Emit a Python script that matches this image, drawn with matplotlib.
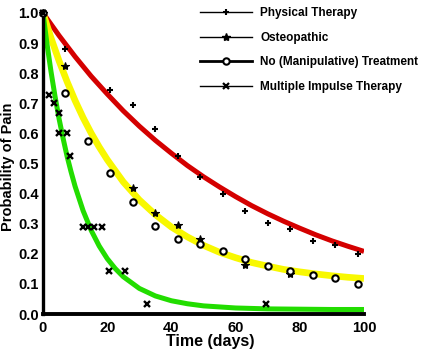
import matplotlib
matplotlib.use("Agg")
import matplotlib.pyplot as plt
from matplotlib.lines import Line2D

plt.rcParams['font.family'] = ['Liberation Sans', 'DejaVu Sans']
plt.rcParams['font.weight'] = 'bold'

# observed points
pt_days = [0, 7, 21, 28, 35, 42, 49, 56, 63, 70, 77, 84, 91, 98]
pt_prob = [1.0, 0.88, 0.745, 0.695, 0.615, 0.525, 0.455, 0.40, 0.342, 0.303, 0.282, 0.242, 0.229, 0.20]

ost_days = [0, 7, 28, 35, 42, 49, 63, 77]
ost_prob = [1.0, 0.825, 0.42, 0.335, 0.296, 0.25, 0.163, 0.133]

none_days = [0, 7, 14, 21, 28, 35, 42, 49, 56, 63, 70, 77, 84, 91, 98]
none_prob = [1.0, 0.735, 0.575, 0.47, 0.372, 0.292, 0.249, 0.232, 0.21, 0.183, 0.16, 0.143, 0.13, 0.12, 0.10]

mit_days = [0, 2, 3.5, 5, 5, 7.5, 8.5, 12.5, 14, 16, 18.5, 20.5, 25.5, 32.5, 69.6]
mit_prob = [1.0, 0.728, 0.70, 0.667, 0.60, 0.60, 0.525, 0.29, 0.29, 0.29, 0.29, 0.143, 0.143, 0.033, 0.033]

# fitted curves
red_days = [0, 5, 10, 15, 20, 25, 30, 35, 40, 45, 50, 55, 60, 65, 70, 75, 80, 85, 90, 95, 100]
red_prob = [1.0, 0.925, 0.855, 0.790, 0.731, 0.675, 0.624, 0.577, 0.534, 0.493, 0.456,
            0.422, 0.390, 0.360, 0.333, 0.308, 0.285, 0.263, 0.243, 0.225, 0.208]

yel_days = [0, 2.5, 5, 7.5, 10, 12.5, 15, 17.5, 20, 25, 30, 35, 40, 45, 50, 55, 60, 65, 70, 75, 80, 85, 90, 95, 100]
yel_prob = [1.0, 0.917, 0.841, 0.772, 0.709, 0.652, 0.601, 0.555, 0.513, 0.439, 0.379, 0.330,
            0.289, 0.256, 0.228, 0.205, 0.187, 0.171, 0.159, 0.148, 0.140, 0.133, 0.127, 0.122, 0.118]

grn_days = [0, 1.25, 2.5, 3.75, 5, 6.25, 7.5, 8.75, 10, 12.5, 15, 17.5, 20, 22.5, 25, 30, 35, 40, 45, 50, 60, 70, 80, 90, 100]
grn_prob = [1.0, 0.897, 0.805, 0.723, 0.649, 0.584, 0.524, 0.472, 0.424, 0.343, 0.278, 0.226,
            0.184, 0.151, 0.124, 0.085, 0.060, 0.044, 0.034, 0.027, 0.020, 0.017, 0.016, 0.015, 0.015]

x_ticks = [0, 20, 40, 60, 80, 100]
y_ticks = [0.0, 0.1, 0.2, 0.3, 0.4, 0.5, 0.6, 0.7, 0.8, 0.9, 1.0]

fig = plt.figure(figsize=(4.27, 3.54), dpi=100)
ax = fig.add_axes([43 / 427, 40 / 354, 321 / 427, 301 / 354])

ax.plot(red_days, red_prob, color='#d40000', lw=3.6, solid_capstyle='butt', zorder=2)
ax.plot(yel_days, yel_prob, color='#f8f800', lw=4.8, solid_capstyle='butt', zorder=2)
ax.plot(grn_days, grn_prob, color='#22dd00', lw=3.6, solid_capstyle='butt', zorder=2)

mk = dict(ls='none', color='black', clip_on=False, zorder=3)
ax.plot(pt_days, pt_prob, marker='+', ms=5, mew=1.5, **mk)
ax.plot(ost_days, ost_prob, marker='*', ms=6, mew=0.8, **mk)
ax.plot(none_days, none_prob, marker='o', ms=4.6, mew=1.5, mfc='white', **mk)
ax.plot(mit_days, mit_prob, marker='x', ms=4.2, mew=1.7, **mk)

ax.set_xlim(0, 100)
ax.set_ylim(0, 1.0)
ax.set_xticks(x_ticks)
ax.set_yticks(y_ticks)
ax.set_yticklabels([f"{v:.1f}" for v in y_ticks])
ax.tick_params(length=0, labelsize=10.5)
ax.tick_params(axis='x', pad=5)
ax.tick_params(axis='y', pad=3)
for lab in ax.get_xticklabels() + ax.get_yticklabels():
    lab.set_fontweight('bold')

for s in ['top', 'right']:
    ax.spines[s].set_visible(False)
ax.spines['left'].set_linewidth(2.4)
ax.spines['bottom'].set_linewidth(2.8)

ax.set_xlabel('Time (days)', fontsize=11.5, fontweight='bold')
ax.set_ylabel('Probability of Pain', fontsize=10.5, fontweight='bold')
ax.xaxis.set_label_coords(0.52, -0.066)
ax.yaxis.set_label_coords(-0.088, 0.49)

handles = [
    Line2D([], [], color='black', lw=1.0, marker='+', ms=5, mew=1.5),
    Line2D([], [], color='black', lw=1.0, marker='*', ms=6),
    Line2D([], [], color='black', lw=2.0, marker='o', ms=4.6, mew=1.5, mfc='white'),
    Line2D([], [], color='black', lw=1.0, marker='x', ms=4, mew=1.6),
]
labels = ['Physical Therapy', 'Osteopathic', 'No (Manipulative) Treatment', 'Multiple Impulse Therapy']
fig.legend(handles, labels, loc='upper left', bbox_to_anchor=(200 / 427, 1 - 7 / 354),
           frameon=False, borderpad=0, borderaxespad=0, handlelength=4.4,
           handletextpad=0.7, labelspacing=1.08, prop={'weight': 'bold', 'size': 8.5})

fig.savefig('out.png', dpi=100)
